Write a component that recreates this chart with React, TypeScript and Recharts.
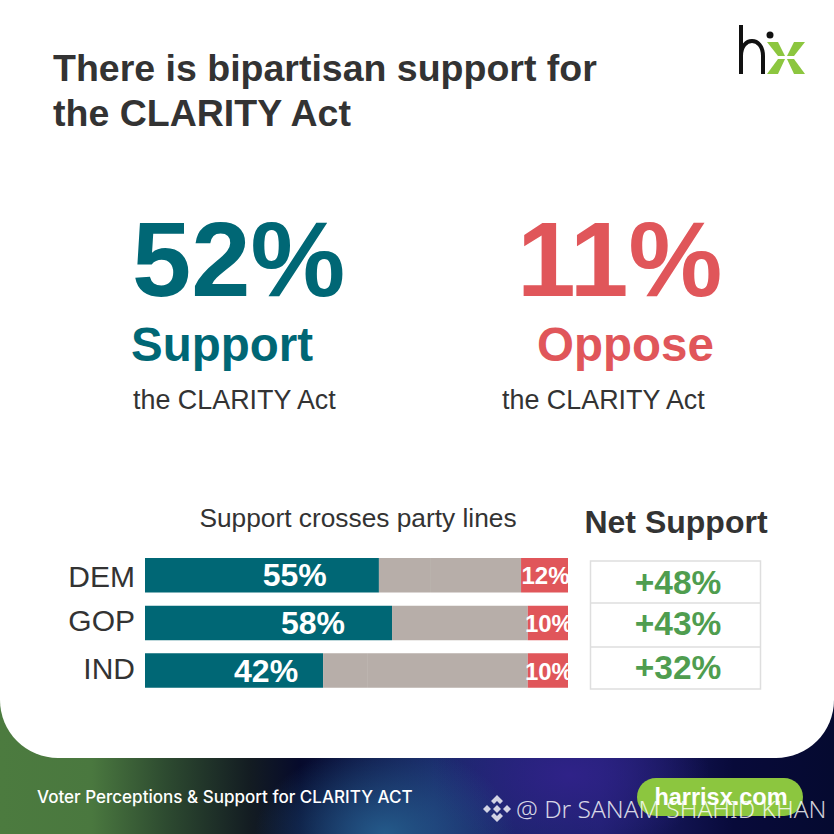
import React from "react";
import { BarChart, Bar, XAxis, YAxis, LabelList } from "recharts";

const parties = ["DEM", "GOP", "IND"];
const supportLen = [55.3, 58.4, 42.1];
const neutralA = [12.3, 32.1, 10.4];
const neutralB = [21.3, 0, 38.0];
const opposeLen = [11.1, 9.5, 9.5];
const supportLabels = ["55%", "58%", "42%"];
const opposeLabels = ["12%", "10%", "10%"];
const netSupport = ["+48%", "+43%", "+32%"];

const rows = parties.map((party, i) => ({
  party,
  support: supportLen[i],
  neutralA: neutralA[i],
  neutralB: neutralB[i],
  oppose: opposeLen[i],
  supportLabel: supportLabels[i],
  opposeLabel: opposeLabels[i],
}));

const TEAL = "#006775";
const RED = "#E0565A";
const GRAY = "#B7AEA9";
const INK = "#333333";
const FONT = "'Liberation Sans', Arial, sans-serif";

const SupportLabel = (p: any) => (
  <text x={p.x + p.width * [0.64, 0.68, 0.68][p.index]} y={p.y + p.height / 2 + 11} textAnchor="middle" fill="#fff" fontFamily={FONT} fontWeight={700} fontSize={32}>
    {p.value}
  </text>
);
const OpposeLabel = (p: any) => (
  <text x={p.x + p.width / 2 + 1} y={p.y + p.height / 2 + 9} textAnchor="middle" fill="#fff" fontFamily={FONT} fontWeight={700} fontSize={24}>
    {p.value}
  </text>
);
const PartyTick = (p: any) => (
  <text x={p.x} y={p.y + 10 + [2, -2, -1][p.index]} textAnchor="end" fill={INK} fontFamily={FONT} fontSize={30}>
    {p.payload.value}
  </text>
);

const footerBg = [
  "radial-gradient(ellipse 130px 90px at 385px 834px, #245a8a 0%, rgba(36,90,138,0) 100%)",
  "radial-gradient(ellipse 140px 80px at 570px 775px, #2f2288 0%, rgba(47,34,136,0) 100%)",
  "linear-gradient(90deg, #4c7b3f 0%, #4a783f 11%, #2d4a30 20%, #131c22 30%, #060a2c 36%, #1a2a6a 52%, #1f2070 72%, #080a3a 88%, #050a30 100%)",
].join(",");

export default function App() {
  return (
    <div style={{ position: "absolute", left: 0, top: 0, width: 834, height: 834, overflow: "hidden", background: footerBg }}>
      <div style={{ position: "absolute", left: 0, top: 0, width: 834, height: 758, background: "#fff", borderRadius: "0 0 58px 58px" }} />

      <svg width={834} height={834} style={{ position: "absolute", left: 0, top: 0 }} fontFamily={FONT}>
        <text x={53} y={81} fontSize={37.5} fontWeight={700} fill={INK}>There is bipartisan support for</text>
        <text x={53} y={126} fontSize={37.5} fontWeight={700} fill={INK}>the CLARITY Act</text>

        <text x={132} y={296} fontSize={106.5} fontWeight={700} fill={TEAL}>52%</text>
        <text x={131} y={361} fontSize={47.5} fontWeight={700} fill={TEAL}>Support</text>
        <text x={133} y={409} fontSize={26.9} fill={INK}>the CLARITY Act</text>

        <text x={517} y={296} fontSize={105.5} fontWeight={700} fill={RED}>11%</text>
        <text x={537} y={361} fontSize={47.5} fontWeight={700} fill={RED}>Oppose</text>
        <text x={502} y={409} fontSize={26.9} fill={INK}>the CLARITY Act</text>

        <text x={358} y={527} fontSize={26.3} textAnchor="middle" fill={INK}>Support crosses party lines</text>
        <text x={676} y={533} fontSize={32} fontWeight={700} textAnchor="middle" fill={INK}>Net Support</text>

        {/* logo */}
        <g>
          <path d="M741 25 V74 M741 56 C741 36 763 36 763 56 V74" fill="none" stroke="#111" strokeWidth={4} />
          <circle cx={770} cy={35} r={3.5} fill="#111" />
          <g fill="#8CC63F">
            <polygon points="767,42 778,42 785,56 778,56" />
            <polygon points="805,42 794,42 787,56 794,56" />
            <polygon points="767,74 778,74 785,59 778,59" />
            <polygon points="805,74 794,74 787,59 794,59" />
          </g>
        </g>

        {/* net support table */}
        <g>
          <rect x={590.5} y={561} width={170} height={128} fill="#fff" stroke="#DEDEDE" strokeWidth={1.5} />
          <line x1={590.5} x2={760.5} y1={603} y2={603} stroke="#DEDEDE" strokeWidth={1.5} />
          <line x1={590.5} x2={760.5} y1={647} y2={647} stroke="#DEDEDE" strokeWidth={1.5} />
          {netSupport.map((t, i) => (
            <text key={t} x={678} y={[594, 635, 679][i]} fontSize={33.5} fontWeight={700} textAnchor="middle" fill="#4F9D4F">{t}</text>
          ))}
        </g>

        {/* footer */}
        <rect x={637} y={778} width={166} height={38} rx={19} fill="#8CC63F" />
        <text x={721} y={805} fontSize={23.5} fontWeight={700} textAnchor="middle" fill="#fff">harrisx.com</text>
        <text x={37} y={803} fontSize={17.05} fontWeight={500} fill="#fff" fontFamily="Inter, sans-serif">Voter Perceptions &amp; Support for CLARITY ACT</text>
        <g fill="#E6E6F0" opacity={0.9}>
          <polygon points="497,795 503,801 500,804 497,801 494,804 491,801" />
          <polygon points="497,822 503,816 500,813 497,816 494,813 491,816" />
          <polygon points="487,805 491,809 487,813 483,809" />
          <polygon points="507,805 511,809 507,813 503,809" />
          <polygon points="497,805 501,809 497,813 493,809" />
        </g>
        <text x={516} y={818} fontSize={24.5} fill="#fff" fillOpacity={0.82} fontFamily="'Noto Sans', sans-serif" fontWeight={300}>@ Dr SANAM SHAHID KHAN</text>
      </svg>

      <div style={{ position: "absolute", left: 0, top: 551 }}>
        <BarChart
          width={834}
          height={143}
          data={rows}
          layout="vertical"
          margin={{ top: 0, right: 266, bottom: 0, left: 0 }}
          barSize={34.5}
        >
          <XAxis type="number" hide domain={[0, 100]} />
          <YAxis
            type="category"
            dataKey="party"
            width={145}
            axisLine={false}
            tickLine={false}
            tickMargin={4}
            tick={PartyTick}
          />
          <Bar dataKey="support" stackId="a" fill={TEAL} isAnimationActive={false}>
            <LabelList dataKey="supportLabel" content={SupportLabel} />
          </Bar>
          <Bar dataKey="neutralA" stackId="a" fill={GRAY} isAnimationActive={false} />
          <Bar dataKey="neutralB" stackId="a" fill={GRAY} isAnimationActive={false} />
          <Bar dataKey="oppose" stackId="a" fill={RED} isAnimationActive={false}>
            <LabelList dataKey="opposeLabel" content={OpposeLabel} />
          </Bar>
        </BarChart>
      </div>
    </div>
  );
}
